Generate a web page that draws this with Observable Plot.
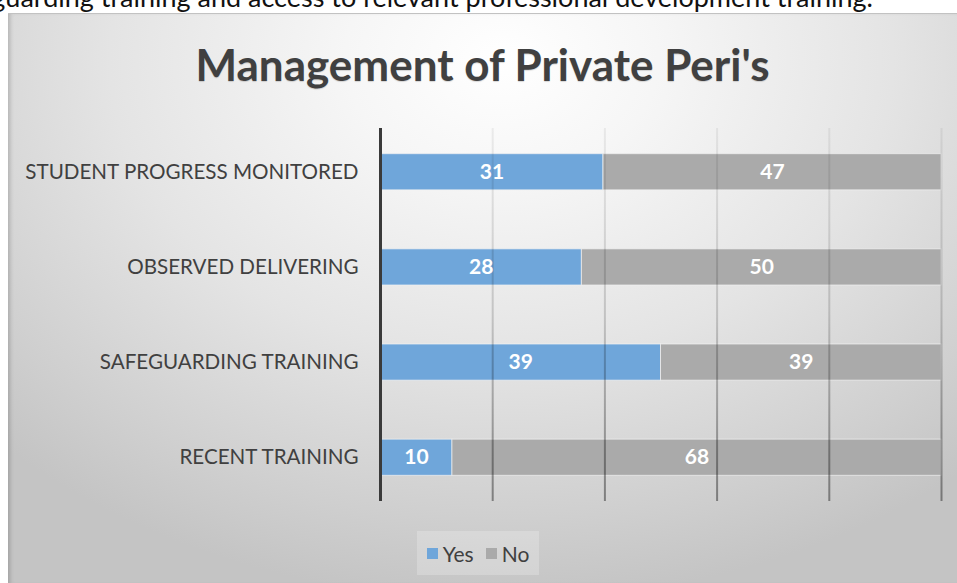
<!DOCTYPE html>
<html>
<head>
<meta charset="utf-8">
<script src="https://cdn.jsdelivr.net/npm/d3@7"></script>
<script src="https://cdn.jsdelivr.net/npm/@observablehq/plot@0.6"></script>
<style>
  html, body { margin: 0; padding: 0; background: #ffffff; }
  body { width: 957px; height: 583px; position: relative; overflow: hidden; font-family: Lato, "Open Sans", sans-serif; }
  #toptext { position: absolute; right: 84px; top: -17px; font-size: 27px; line-height: 1; white-space: nowrap; color: #111; }
  #box { position: absolute; left: 8px; top: 13px; width: 949px; height: 570px;
         background: radial-gradient(ellipse 75% 95% at 52% 8%, #ffffff 0%, #f6f6f6 22%, #e4e4e4 55%, #cfcfcf 85%, #c4c4c4 100%);
         border-top: 1px solid #c2c2c2;
         box-shadow: inset 4px 0 4px -2px rgba(0,0,0,0.18); overflow: hidden; }
  #title { position: absolute; left: 0; width: 949px; top: 28px; text-align: center; font-family: Lato, sans-serif; font-weight: 700; font-size: 44px; line-height: 1; color: #404040; text-shadow: 0 1px 1px rgba(0,0,0,0.15); }
  #chart { position: absolute; left: 0; top: 100px; }
  #legend { position: absolute; left: 409px; top: 517px; width: 122px; height: 44px; background: rgba(255,255,255,0.22); display: flex; align-items: center; justify-content: center; gap: 12px; font-size: 21px; color: #404040; }
  .item { display: flex; align-items: center; gap: 5px; }
  .sw { width: 11px; height: 11px; display: inline-block; }
</style>
</head>
<body>
<div id="toptext">Safeguarding training and access to relevant professional development training.</div>
<div id="box">
  <div id="title">Management of Private Peri's</div>
  <div id="chart"></div>
  <div id="legend"></div>
</div>
<script>
const categories = ["STUDENT PROGRESS MONITORED", "OBSERVED DELIVERING", "SAFEGUARDING TRAINING", "RECENT TRAINING"];
const yesValues = [31, 28, 39, 10];
const noValues = [47, 50, 39, 68];
const series = ["Yes", "No"];
const seriesColors = ["#6fa6da", "#aaaaaa"];
const gridTicks = [0.2, 0.4, 0.6, 0.8, 1.0];

const data = [
  ...categories.map((c, i) => ({category: c, answer: "Yes", value: yesValues[i]})),
  ...categories.map((c, i) => ({category: c, answer: "No", value: noValues[i]}))
];

const plot = Plot.plot({
  width: 949,
  height: 400,
  marginLeft: 372,
  marginRight: 16,
  marginTop: 14,
  marginBottom: 13,
  style: {fontFamily: "Lato, sans-serif", fontSize: "20.6px", color: "#404040", background: "transparent", overflow: "visible"},
  x: {domain: [0, 1], axis: null},
  y: {domain: categories, paddingInner: 0.62, paddingOuter: 0.27, round: false, label: null, tickSize: 0, tickPadding: 22},
  color: {domain: series, range: seriesColors},
  marks: [
    Plot.barX(data, Plot.stackX({x: "value", y: "category", fill: "answer", offset: "normalize", stroke: "#f2f2f2", strokeWidth: 1, strokeOpacity: 0.7})),
    Plot.ruleX(gridTicks, {stroke: "url(#gridGrad)", strokeWidth: 2}),
    Plot.ruleX([0], {stroke: "#3a3a3a", strokeWidth: 3}),
    Plot.text(data, Plot.stackX({x: "value", y: "category", text: d => String(d.value), offset: "normalize", fill: "white", fontWeight: "bold", fontSize: 21}))
  ]
});

const ns = "http://www.w3.org/2000/svg";
const defs = document.createElementNS(ns, "defs");
const grad = document.createElementNS(ns, "linearGradient");
grad.setAttribute("id", "gridGrad");
grad.setAttribute("gradientUnits", "userSpaceOnUse");
grad.setAttribute("x1", "0"); grad.setAttribute("x2", "0");
grad.setAttribute("y1", "14"); grad.setAttribute("y2", "387");
[["0", 0.06], ["0.5", 0.16], ["1", 0.40]].forEach(([o, a]) => {
  const s = document.createElementNS(ns, "stop");
  s.setAttribute("offset", o);
  s.setAttribute("stop-color", "#000000");
  s.setAttribute("stop-opacity", String(a));
  grad.appendChild(s);
});
defs.appendChild(grad);
plot.insertBefore(defs, plot.firstChild);
document.getElementById("chart").appendChild(plot);

const legend = document.getElementById("legend");
series.forEach((s, i) => {
  const it = document.createElement("span");
  it.className = "item";
  const sw = document.createElement("span");
  sw.className = "sw";
  sw.style.background = seriesColors[i];
  const lb = document.createElement("span");
  lb.textContent = s;
  it.appendChild(sw); it.appendChild(lb);
  legend.appendChild(it);
});
</script>
</body>
</html>
